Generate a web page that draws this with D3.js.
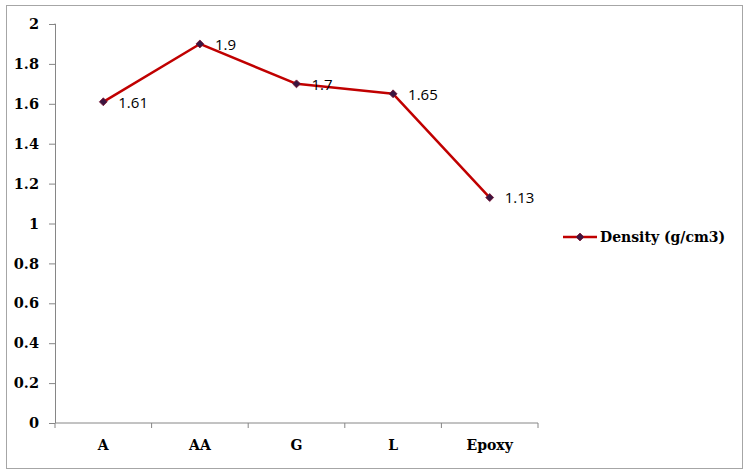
<!DOCTYPE html>
<html><head><meta charset="utf-8">
<script src="https://cdn.jsdelivr.net/npm/d3@7"></script>
<style>body{margin:0;background:#fff}svg{display:block}
.sf{font-family:"DejaVu Serif",serif;font-weight:bold}
.ss{font-family:"Open Sans","Liberation Sans",sans-serif}</style>
</head><body>
<svg id="c" width="748" height="475"></svg>
<script>
const categories = ["A", "AA", "G", "L", "Epoxy"];
const density = [1.61, 1.9, 1.7, 1.65, 1.13];
const yTicks = [0, 0.2, 0.4, 0.6, 0.8, 1, 1.2, 1.4, 1.6, 1.8, 2];
const seriesName = "Density (g/cm3)";

const svg = d3.select("#c");
const axisCol = "#868686";
const lineCol = "#c00000";
const markCol = "#3b1640";

svg.append("rect").attr("x", 6.5).attr("y", 5.5).attr("width", 736).attr("height", 463)
  .attr("fill", "#fff").attr("stroke", "#a6a6a6").attr("stroke-width", 1);

const L = 55, R = 538, T = 24, B = 423;
const x = d3.scaleBand().domain(categories).range([L, R]);
const y = d3.scaleLinear().domain([0, 2]).range([B, T]);

const ya = svg.append("g").attr("transform", `translate(${L},0)`)
  .call(d3.axisLeft(y).tickValues(yTicks).tickSize(6).tickPadding(10).tickFormat(d3.format("~g")));
ya.attr("font-family", null).attr("font-size", null);
ya.select(".domain").attr("stroke", axisCol).attr("d", `M-0.5,${T}H0.5V${B}`);
ya.selectAll(".tick line").attr("stroke", axisCol);
ya.selectAll(".tick text").attr("class", "sf").style("font-size", "14.5px").attr("fill", "#000");

const xa = svg.append("g").attr("transform", `translate(0,${B})`)
  .call(d3.axisBottom(x).tickSize(0).tickPadding(17));
xa.attr("font-family", null).attr("font-size", null);
xa.select(".domain").attr("stroke", axisCol).attr("d", `M${L},0H${R}`);
xa.selectAll(".tick text").attr("class", "sf").style("font-size", "14px").attr("fill", "#000");
const bounds = categories.map(c => x(c)).concat([R]);
svg.append("g").selectAll("line").data(bounds).join("line")
  .attr("x1", d => d).attr("x2", d => d).attr("y1", B).attr("y2", B + 5)
  .attr("stroke", axisCol);

const cx = (d, i) => x(categories[i]) + x.bandwidth() / 2;
const line = d3.line().x((d, i) => cx(d, i)).y(d => y(d));
svg.append("path").datum(density).attr("d", line)
  .attr("fill", "none").attr("stroke", lineCol).attr("stroke-width", 2.5).attr("stroke-linejoin", "round");

const diamond = d3.symbol().type(d3.symbolDiamond2).size(40);
svg.append("g").selectAll("path").data(density).join("path")
  .attr("transform", (d, i) => `translate(${cx(d, i)},${y(d)})`)
  .attr("d", diamond).attr("fill", markCol).attr("stroke", "#7a1030").attr("stroke-width", 0.8);

svg.append("g").selectAll("text").data(density).join("text")
  .attr("class", "ss")
  .attr("x", (d, i) => cx(d, i) + 15).attr("y", d => y(d)).attr("dy", "0.38em")
  .style("font-size", "15px").attr("fill", "#000")
  .text(d => d);

const lg = svg.append("g").attr("transform", "translate(563,237)");
lg.append("line").attr("x1", 0).attr("x2", 34).attr("stroke", lineCol).attr("stroke-width", 2.5);
lg.append("path").attr("transform", "translate(17,0)").attr("d", diamond)
  .attr("fill", markCol).attr("stroke", "#7a1030").attr("stroke-width", 0.8);
lg.append("text").attr("class", "sf").attr("x", 37).attr("dy", "0.35em")
  .style("font-size", "14px").attr("fill", "#000").text(seriesName);
</script>
</body></html>
